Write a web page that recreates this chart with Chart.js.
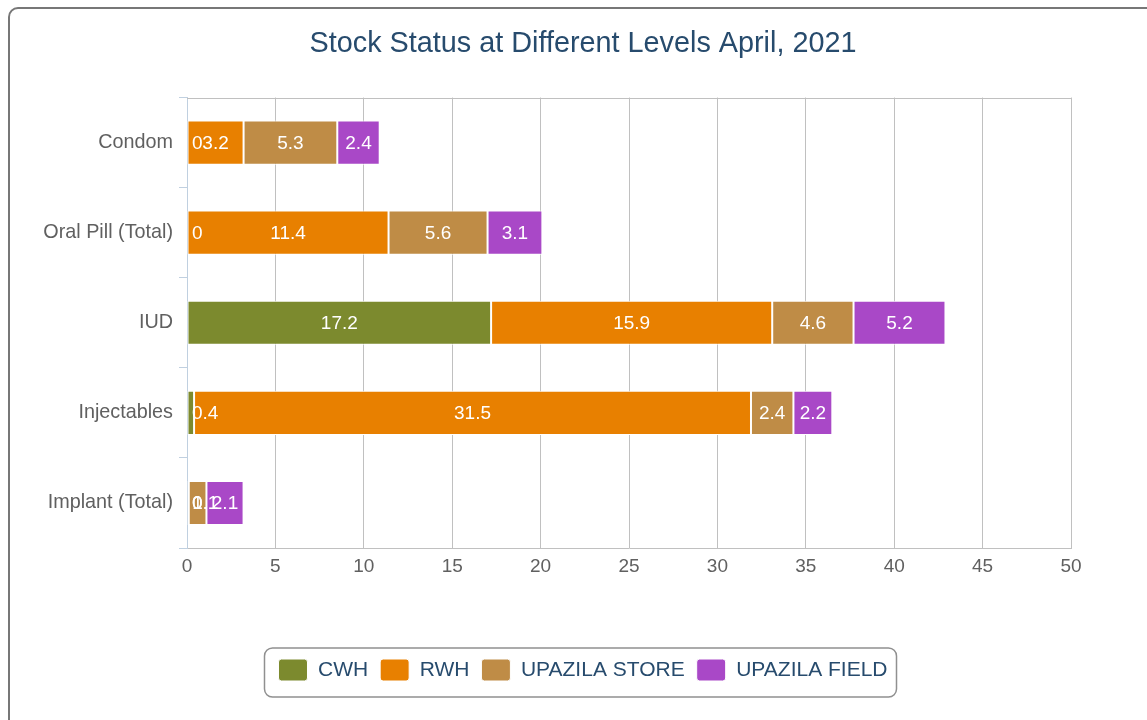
<!DOCTYPE html>
<html lang="en">
<head>
<meta charset="UTF-8">
<title>Stock Status at Different Levels</title>
<script src="https://cdn.jsdelivr.net/npm/chart.js@4.4.0/dist/chart.umd.min.js"></script>
<style>
    html, body { margin: 0; padding: 0; overflow: hidden; background: #fff; }
    #chart { position: absolute; left: 0; top: 0; }
    #frame { position: absolute; left: 8px; top: 7px; width: 1200px; height: 800px;
             border: 2px solid #777; border-radius: 10px; box-sizing: border-box; pointer-events: none; }
</style>
</head>
<body>

<canvas id="chart" width="1147" height="720"></canvas>
<div id="frame"></div>

<script>

    const products = ['Condom', 'Oral Pill (Total)', 'IUD', 'Injectables', 'Implant (Total)'];
    const cwh = [0, 0, 17.2, 0.4, 0];
    const rwh = [3.2, 11.4, 15.9, 31.5, 0.1];
    const upazilaStore = [5.3, 5.6, 4.6, 2.4, 1.0];
    const upazilaField = [2.4, 3.1, 5.2, 2.2, 2.1];

    Chart.defaults.font.family = '"Liberation Sans", Arial, sans-serif';

    // white value labels, centred in each segment, kept inside the plot on the left
    const barLabels = {
        id: 'barLabels',
        afterDatasetsDraw(chart) {
            const {ctx, chartArea} = chart;
            ctx.save();
            ctx.font = '19px "Liberation Sans", Arial, sans-serif';
            ctx.fillStyle = '#fff';
            ctx.textBaseline = 'middle';
            ctx.textAlign = 'left';
            chart.data.datasets.forEach((ds, i) => {
                chart.getDatasetMeta(i).data.forEach((bar, j) => {
                    const txt = String(ds.data[j]);
                    const w = ctx.measureText(txt).width;
                    let x = (bar.x + bar.base) / 2 - w / 2;
                    x = Math.max(x, chartArea.left + 5);
                    ctx.fillText(txt, x, bar.y + 1);
                });
            });
            ctx.restore();
        }
    };

    // top edge of plot border + rounded box round the legend
    const frames = {
        id: 'frames',
        afterDraw(chart) {
            const {ctx, chartArea} = chart;
            ctx.save();
            ctx.strokeStyle = '#c0c0c0';
            ctx.lineWidth = 1;
            ctx.beginPath();
            ctx.moveTo(chartArea.left, Math.round(chartArea.top) + 0.5);
            ctx.lineTo(chartArea.right, Math.round(chartArea.top) + 0.5);
            ctx.stroke();

            const hb = chart.legend.legendHitBoxes;
            if (hb && hb.length) {
                const first = hb[0], last = hb[hb.length - 1];
                const l = first.left - 14;
                const r = last.left + last.width + 9;
                const cy = first.top + first.height / 2;
                ctx.strokeStyle = '#909090';
                ctx.lineWidth = 1.5;
                ctx.beginPath();
                ctx.roundRect(l, cy - 22, r - l, 49, 8);
                ctx.stroke();
            }
            ctx.restore();
        }
    };

    const ctx = document.getElementById('chart').getContext('2d');
    const myChart = new Chart(ctx, {
        type: 'bar',
        data: {
            labels: products,
            datasets: [
                {label: 'CWH', data: cwh, backgroundColor: '#7c8a2e'},
                {label: 'RWH', data: rwh, backgroundColor: '#e88000'},
                {label: 'UPAZILA STORE', data: upazilaStore, backgroundColor: '#bf8c46'},
                {label: 'UPAZILA FIELD', data: upazilaField, backgroundColor: '#a948c7'}
            ]
        },
        options: {
            indexAxis: 'y',
            responsive: false,
            animation: false,
            datasets: {
                bar: {
                    borderColor: '#fff', borderWidth: 1, borderSkipped: false,
                    barPercentage: 0.49, categoryPercentage: 1
                }
            },
            layout: {padding: {left: 20, right: 1, top: 0, bottom: 29}},
            scales: {
                x: {
                    stacked: true, min: 0, max: 50,
                    ticks: {stepSize: 5, color: '#606060', font: {size: 19}, padding: 7},
                    grid: {
                        drawTicks: false,
                        color: c => (c.tick && c.tick.value === 0) ? 'rgba(0,0,0,0)' : '#c0c0c0'
                    },
                    border: {color: '#c0c0c0'},
                    afterFit(s) { s.height = 99; }
                },
                y: {
                    stacked: true,
                    grid: {offset: true, drawOnChartArea: false, color: '#c0d0e0', tickLength: 8},
                    border: {color: '#c0d0e0'},
                    ticks: {color: '#606060', font: {size: 19.8}, padding: 6},
                    afterFit(s) { s.width = 167; }
                },
                yRight: {
                    type: 'linear', position: 'right', display: true,
                    grid: {display: false}, ticks: {display: false}, border: {display: false},
                    afterFit(s) { s.width = 75; }
                }
            },
            plugins: {
                title: {
                    display: true,
                    text: 'Stock Status at Different Levels April, 2021',
                    color: '#274b6d',
                    font: {size: 28.8, weight: 'normal'},
                    padding: {top: 27, bottom: 36}
                },
                legend: {
                    position: 'bottom',
                    labels: {
                        boxWidth: 29, boxHeight: 22, padding: 12,
                        color: '#274b6d', font: {size: 21},
                        useBorderRadius: true, borderRadius: 3
                    }
                },
                tooltip: {enabled: false}
            }
        },
        plugins: [barLabels, frames]
    });

</script>

</body>
</html>
